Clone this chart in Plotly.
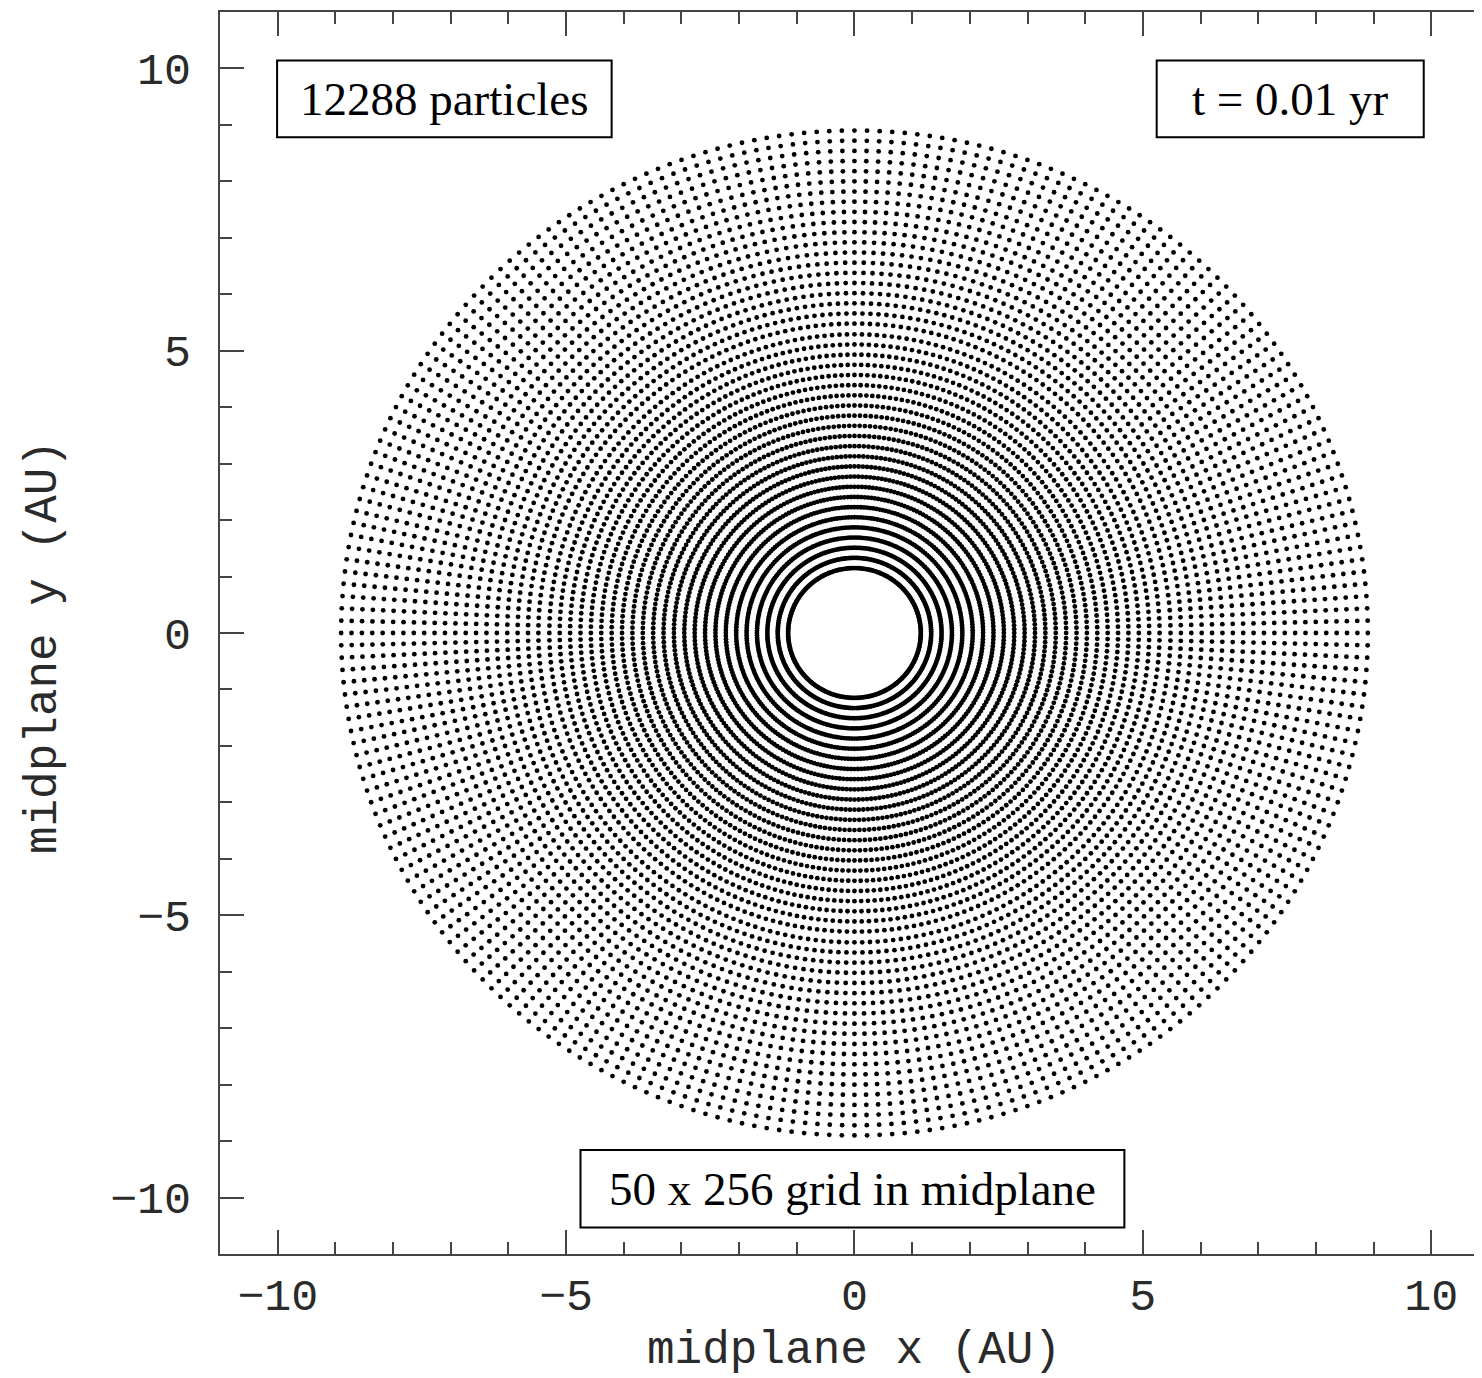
import numpy as np
import plotly.graph_objects as go

# ---- data ----
ring_radii = [1.15, 1.33, 1.51, 1.69, 1.87, 2.05, 2.23, 2.41, 2.59, 2.77,
              2.95, 3.13, 3.31, 3.49, 3.67, 3.85, 4.03, 4.21, 4.39, 4.57,
              4.75, 4.93, 5.11, 5.29, 5.48, 5.66, 5.84, 6.02, 6.20, 6.38,
              6.56, 6.74, 6.92, 7.10, 7.28, 7.46, 7.64, 7.82, 8.00, 8.18,
              8.36, 8.54, 8.72, 8.90]
n_azimuth = 256
tick_vals = [-10, -5, 0, 5, 10]
label_particles = "12288 particles"
label_time = "t = 0.01 yr"
label_grid = "50 x 256 grid in midplane"
x_title = "midplane x (AU)"
y_title = "midplane y (AU)"

# particle positions on the polar grid
r = np.array(ring_radii)[:, None]
theta = 2 * np.pi * np.arange(n_azimuth)[None, :] / n_azimuth
x = (r * np.cos(theta)).ravel()
y = (r * np.sin(theta)).ravel()

fig = go.Figure()
fig.add_trace(go.Scatter(x=x, y=y, mode="markers",
                         marker=dict(size=4.8, color="black", line=dict(width=0)),
                         showlegend=False, hoverinfo="skip"))

mono = "Liberation Mono"
serif = "Liberation Serif"
axcol = "#444444"
txtcol = "#2a2a2a"

# the page body adds an 8 px margin, so the figure is 8 px smaller than the window
fig.update_layout(
    width=1474, height=1370,
    margin=dict(l=212, r=0, t=4, b=124, autoexpand=False),
    paper_bgcolor="white", plot_bgcolor="white",
    showlegend=False,
    xaxis=dict(range=[-11, 10.88], tickvals=tick_vals, automargin=False,
               ticks="inside", ticklen=24, tickwidth=1.5, tickcolor=axcol,
               minor=dict(dtick=1, ticks="inside", ticklen=12, tickwidth=1.5, tickcolor=axcol),
               showline=True, linecolor=axcol, linewidth=2, mirror="ticks",
               showgrid=False, zeroline=False,
               tickfont=dict(family=mono, size=45, color=txtcol),
               ticklabelstandoff=0),
    yaxis=dict(range=[-11, 11], tickvals=tick_vals, automargin=False,
               ticks="inside", ticklen=24, tickwidth=1.5, tickcolor=axcol,
               minor=dict(dtick=1, ticks="inside", ticklen=12, tickwidth=1.5, tickcolor=axcol),
               showline=True, linecolor=axcol, linewidth=2, mirror=False,
               showgrid=False, zeroline=False,
               tickfont=dict(family=mono, size=45, color=txtcol),
               ticklabelstandoff=18),
    yaxis2=dict(range=[-11, 11], tickvals=tick_vals, overlaying="y", side="right", anchor="x",
                automargin=False,
                ticks="inside", ticklen=20, tickwidth=1.5, tickcolor=axcol,
                minor=dict(dtick=1, ticks="inside", ticklen=6, tickwidth=1.5, tickcolor=axcol),
                showline=False, showgrid=False, zeroline=False, showticklabels=False),
)

# axis titles
fig.add_annotation(x=0, xref="x", y=0, yref="paper", yshift=-97, text=x_title,
                   showarrow=False, xanchor="center", yanchor="middle",
                   font=dict(family=mono, size=46, color=txtcol))
fig.add_annotation(x=0, xref="paper", xshift=-176, y=-0.25, yref="y", text=y_title,
                   showarrow=False, xanchor="center", yanchor="middle", textangle=-90,
                   font=dict(family=mono, size=46, color=txtcol))

boxes = [
    (-10.01, -4.21, 8.78, 10.14, label_particles),
    (5.24, 9.87, 8.78, 10.14, label_time),
    (-4.75, 4.68, -10.53, -9.16, label_grid),
]
for x0, x1, y0, y1, txt in boxes:
    fig.add_shape(type="rect", xref="x", yref="y", x0=x0, x1=x1, y0=y0, y1=y1,
                  line=dict(color="black", width=2), fillcolor="white", layer="above")
    fig.add_annotation(x=(x0 + x1) / 2, y=(y0 + y1) / 2, xref="x", yref="y",
                       text=txt, showarrow=False,
                       font=dict(family=serif, size=47, color="black"),
                       xanchor="center", yanchor="middle")

fig.write_html("out.html")
